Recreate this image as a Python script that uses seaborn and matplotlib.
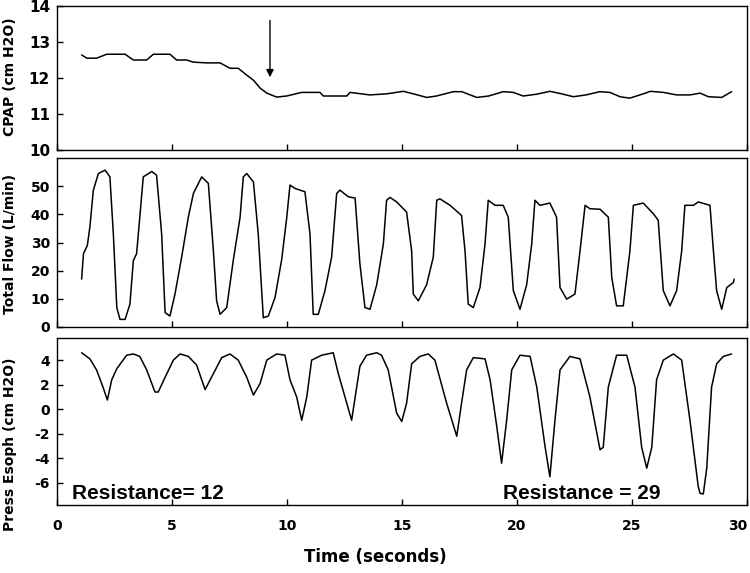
import numpy as np
import pandas as pd
import matplotlib
matplotlib.use("Agg")
import matplotlib.pyplot as plt
import seaborn as sns

# ---------------- data ----------------
cpap_t = [1.07, 1.3, 1.72, 2.16, 2.96, 3.32, 3.9, 4.19, 4.91, 5.2, 5.64, 5.93, 6.51,
          7.09, 7.52, 7.88, 8.25, 8.54, 8.83, 9.12, 9.55, 9.99, 10.64, 11.43, 11.58,
          12.6, 12.74, 13.6, 14.33, 15.06, 15.5, 16.07, 16.5, 17.23, 17.6, 18.25,
          18.77, 19.4, 19.84, 20.27, 20.85, 21.43, 21.94, 22.45, 23.0, 23.6, 24.04,
          24.48, 24.9, 25.49, 25.8, 26.36, 26.94, 27.52, 27.96, 28.32, 28.9, 29.33]
cpap_v = [12.64, 12.55, 12.55, 12.66, 12.66, 12.5, 12.5, 12.66, 12.66, 12.5, 12.5,
          12.44, 12.42, 12.42, 12.27, 12.27, 12.08, 11.94, 11.72, 11.58, 11.47, 11.5,
          11.6, 11.6, 11.5, 11.5, 11.6, 11.53, 11.56, 11.63, 11.56, 11.46, 11.5, 11.62,
          11.62, 11.46, 11.5, 11.62, 11.6, 11.5, 11.55, 11.63, 11.56, 11.48, 11.53,
          11.62, 11.6, 11.48, 11.44, 11.56, 11.63, 11.6, 11.53, 11.53, 11.58, 11.48,
          11.46, 11.62]

flow_t = [1.07, 1.15, 1.32, 1.43, 1.58, 1.8, 2.09, 2.3, 2.45, 2.6, 2.74, 2.96, 3.17,
          3.32, 3.46, 3.6, 3.75, 4.12, 4.33, 4.55, 4.7, 4.91, 5.13, 5.42, 5.71, 5.93,
          6.29, 6.58, 6.8, 6.94, 7.09, 7.38, 7.67, 7.96, 8.1, 8.25, 8.54, 8.75, 8.97,
          9.19, 9.48, 9.77, 9.99, 10.13, 10.35, 10.78, 11.0, 11.14, 11.36, 11.65,
          11.94, 12.16, 12.3, 12.67, 12.96, 13.17, 13.39, 13.61, 13.9, 14.19, 14.33,
          14.48, 14.77, 15.2, 15.42, 15.49, 15.71, 16.07, 16.36, 16.51, 16.65, 17.09,
          17.59, 17.74, 17.88, 18.1, 18.39, 18.61, 18.75, 19.04, 19.4, 19.62, 19.84,
          20.13, 20.42, 20.64, 20.78, 21.0, 21.43, 21.72, 21.87, 22.16, 22.52, 22.74,
          22.96, 23.17, 23.61, 23.97, 24.12, 24.33, 24.62, 24.91, 25.06, 25.49, 25.93,
          26.14, 26.36, 26.65, 26.94, 27.16, 27.3, 27.67, 27.88, 28.39, 28.54, 28.68,
          28.9, 29.12, 29.41, 29.44]
flow_v = [17, 26, 29, 35.5, 48.6, 54.5, 55.7, 53.3, 33, 6.9, 2.7, 2.7, 8.1, 23.6, 26,
          39, 53.3, 55.2, 53.9, 33, 5.1, 3.9, 11.7, 24.8, 39, 47.4, 53.3, 51, 27, 9.3,
          4.5, 6.9, 24, 39, 53.3, 54.5, 51.5, 33, 3.3, 3.9, 10.5, 24, 39, 50.4, 49.2,
          48, 33, 4.5, 4.5, 12.9, 24.8, 47.4, 48.6, 46.2, 45.8, 22.4, 6.9, 6.3, 15,
          29.5, 45, 46, 44.4, 40.8, 27, 11.7, 9.3, 15, 24.8, 45, 45.5, 43.2, 39.6, 27,
          8.1, 6.9, 14, 29.5, 45, 43.2, 43.2, 39, 12.9, 6.3, 15, 29.5, 45, 43.2, 44,
          39, 14, 9.9, 11.7, 27, 43.2, 42, 41.8, 39, 17.6, 7.5, 7.5, 27, 43.2, 44, 40.2,
          37.9, 12.9, 7.5, 12.9, 27, 43.2, 43.2, 44.4, 43.2, 27, 12.9, 6.3, 14, 15.8, 17]

eso_t = [1.07, 1.43, 1.72, 2.0, 2.19, 2.38, 2.6, 3.03, 3.32, 3.6, 3.9, 4.26, 4.4,
         4.7, 5.06, 5.35, 5.71, 6.07, 6.44, 6.8, 7.16, 7.52, 7.88, 8.25, 8.54, 8.83,
         9.12, 9.55, 9.91, 10.13, 10.42, 10.64, 10.86, 11.07, 11.51, 12.01, 12.23,
         12.52, 12.81, 13.03, 13.17, 13.46, 13.9, 14.11, 14.4, 14.77, 14.99, 15.2,
         15.42, 15.78, 16.14, 16.43, 16.94, 17.38, 17.59, 17.81, 18.1, 18.61, 18.83,
         19.12, 19.33, 19.55, 19.77, 20.13, 20.57, 20.86, 21.22, 21.43, 21.65, 21.87,
         22.3, 22.74, 23.17, 23.61, 23.75, 23.97, 24.33, 24.77, 25.13, 25.42, 25.64,
         25.86, 26.07, 26.36, 26.8, 27.16, 27.52, 27.88, 27.96, 28.1, 28.25, 28.46,
         28.68, 28.97, 29.33]
eso_v = [4.6, 4.1, 3.2, 1.8, 0.75, 2.4, 3.3, 4.4, 4.5, 4.3, 3.2, 1.4, 1.4, 2.6, 4.0,
         4.5, 4.3, 3.6, 1.6, 2.9, 4.2, 4.5, 4.0, 2.6, 1.15, 2.1, 4.0, 4.5, 4.4, 2.4,
         1.0, -0.9, 1.0, 4.0, 4.4, 4.6, 2.9, 1.0, -0.9, 1.8, 3.5, 4.4, 4.6, 4.4, 3.2,
         -0.33, -1.0, 0.5, 3.7, 4.3, 4.5, 4.0, 0.5, -2.2, 0.5, 3.2, 4.2, 4.1, 2.4,
         -1.4, -4.4, -0.9, 3.2, 4.4, 4.3, 1.8, -3.05, -5.5, -0.9, 3.2, 4.3, 4.1, 1.0,
         -3.3, -3.1, 1.8, 4.4, 4.4, 1.8, -3.1, -4.8, -3.1, 2.4, 4.0, 4.5, 4.0, -0.9,
         -6.3, -6.85, -6.9, -4.8, 1.8, 3.7, 4.3, 4.5]

x_ticks = [0, 5, 10, 15, 20, 25, 30]
cpap_ticks = [10, 11, 12, 13, 14]
flow_ticks = [0, 10, 20, 30, 40, 50]
eso_ticks = [-6, -4, -2, 0, 2, 4]

ylabels = ["CPAP (cm H2O)", "Total Flow (L/min)", "Press Esoph (cm H2O)"]
xlabel = "Time (seconds)"
notes = ["Resistance= 12", "Resistance = 29"]

# ---------------- style ----------------
sns.set_theme(style="ticks")
plt.rcParams["font.family"] = ["DejaVu Sans"]
plt.rcParams["axes.linewidth"] = 1.0
plt.rcParams["text.color"] = "black"
plt.rcParams["xtick.color"] = "black"
plt.rcParams["ytick.color"] = "black"

fig = plt.figure(figsize=(7.5, 5.73), dpi=100)
L, W = 57 / 750, 690 / 750
H = 573.0
ax1 = fig.add_axes([L, 1 - 150 / H, W, 144 / H])
ax2 = fig.add_axes([L, 1 - 327 / H, W, 169 / H])
ax3 = fig.add_axes([L, 1 - 505 / H, W, 167 / H])

df1 = pd.DataFrame({"t": cpap_t, "v": cpap_v})
df2 = pd.DataFrame({"t": flow_t, "v": flow_v})
df3 = pd.DataFrame({"t": eso_t, "v": eso_v})

for ax, df in [(ax1, df1), (ax2, df2), (ax3, df3)]:
    sns.lineplot(data=df, x="t", y="v", ax=ax, color="black", linewidth=1.1,
                 sort=False, estimator=None)
    ax.set_xlim(0, 30)
    ax.set_xlabel("")
    ax.set_ylabel("")
    for s in ax.spines.values():
        s.set_visible(True)
        s.set_color("black")
    ax.tick_params(direction="in", length=4, width=1, colors="black",
                   labelsize=10, pad=5)
    ax.set_xticks(x_ticks)

ax1.set_ylim(10, 14)
ax1.set_yticks(cpap_ticks)
ax1.set_yticklabels([str(v) for v in cpap_ticks], fontweight="bold", fontsize=11)
ax2.set_ylim(0, 60)
ax2.set_yticks(flow_ticks)
ax2.set_yticklabels([str(v) for v in flow_ticks], fontweight="bold")
ax3.set_ylim(-7.8, 5.8)
ax3.set_yticks(eso_ticks)
ax3.set_yticklabels([str(v) for v in eso_ticks], fontweight="bold")

ax1.tick_params(axis="x", labelbottom=False)
ax2.tick_params(axis="x", labelbottom=False)
xlabs = ax3.set_xticklabels([str(v) for v in x_ticks], fontweight="bold")
xlabs[-1].set_horizontalalignment("right")
ax3.tick_params(axis="x", pad=10)

# arrow in CPAP panel
ax1.annotate("", xy=(9.26, 12.02), xytext=(9.26, 13.6),
             arrowprops=dict(arrowstyle="-|>", color="black", lw=1.0,
                             mutation_scale=11, shrinkA=0, shrinkB=0))

# resistance notes
ax3.text(0.65, -7.3, notes[0], fontsize=15, fontweight="bold", color="black",
         family="Liberation Sans", va="baseline", ha="left")
ax3.text(19.39, -7.35, notes[1], fontsize=15, fontweight="bold", color="black",
         family="Liberation Sans", va="baseline", ha="left")

# axis labels
fig.text(0.014, 1 - 77 / H, ylabels[0], rotation=90, fontsize=10,
         fontweight="bold", ha="center", va="center")
fig.text(0.014, 1 - 244 / H, ylabels[1], rotation=90, fontsize=10,
         fontweight="bold", ha="center", va="center")
fig.text(0.014, 1 - 444 / H, ylabels[2], rotation=90, fontsize=10,
         fontweight="bold", ha="center", va="center")
fig.text(0.5, 1 - 557 / H, xlabel, fontsize=12, fontweight="bold",
         ha="center", va="center")

fig.savefig("out.png", dpi=100, facecolor="white")
